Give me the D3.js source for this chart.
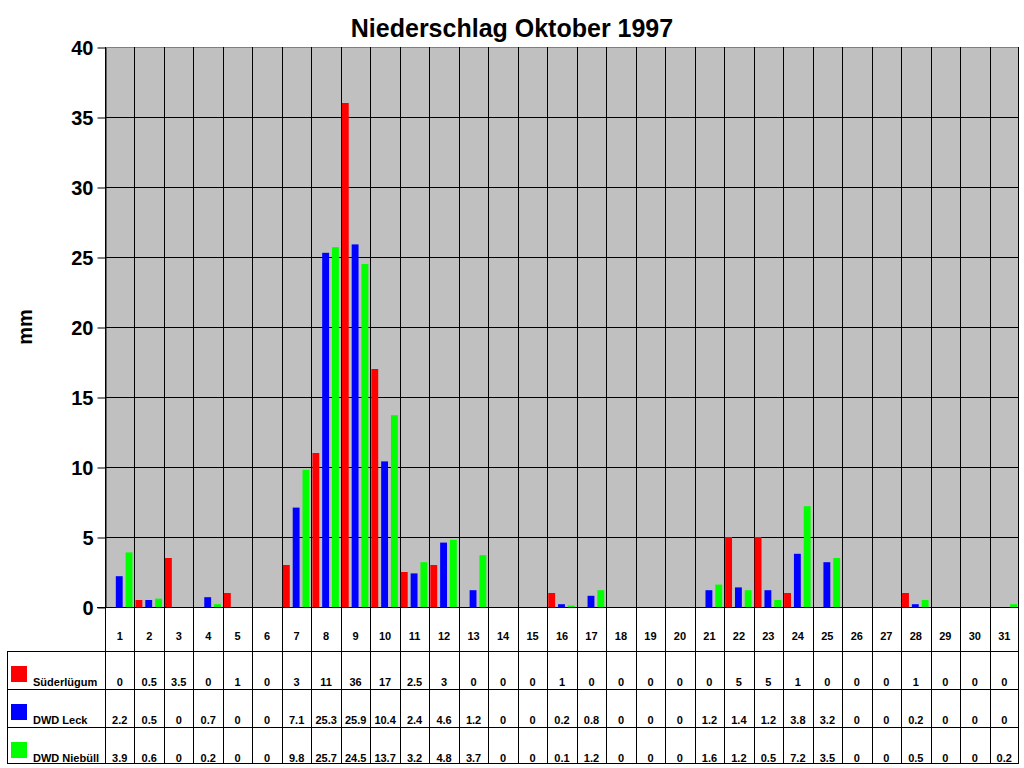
<!DOCTYPE html>
<html>
<head>
<meta charset="utf-8">
<script src="https://cdn.jsdelivr.net/npm/d3@7"></script>
<style>
body { margin: 0; background: #fff; }
text { font-family: "Liberation Sans", Arial, sans-serif; font-weight: bold; }
</style>
</head>
<body>
<svg class="chart"></svg>
<script>
// Data
var days = d3.range(1, 32).map(String);
var seriesNames = ["Süderlügum", "DWD Leck", "DWD Niebüll"];
var suederluegum = [0, 0.5, 3.5, 0, 1, 0, 3, 11, 36, 17, 2.5, 3, 0, 0, 0, 1, 0, 0, 0, 0, 0, 5, 5, 1, 0, 0, 0, 1, 0, 0, 0];
var dwdLeck = [2.2, 0.5, 0, 0.7, 0, 0, 7.1, 25.3, 25.9, 10.4, 2.4, 4.6, 1.2, 0, 0, 0.2, 0.8, 0, 0, 0, 1.2, 1.4, 1.2, 3.8, 3.2, 0, 0, 0.2, 0, 0, 0];
var dwdNiebuell = [3.9, 0.6, 0, 0.2, 0, 0, 9.8, 25.7, 24.5, 13.7, 3.2, 4.8, 3.7, 0, 0, 0.1, 1.2, 0, 0, 0, 1.6, 1.2, 0.5, 7.2, 3.5, 0, 0, 0.5, 0, 0, 0.2];
var yTicks = [0, 5, 10, 15, 20, 25, 30, 35, 40];
var colors = ["#ff0000", "#0000ff", "#00ff00"];

var allSeries = [suederluegum, dwdLeck, dwdNiebuell];

var W = 1024, H = 768;
var plot = { left: 105, right: 1019, top: 47, bottom: 607 };
var tableLeft = 7;
var rowLines = [651, 689, 727, 763];

var svg = d3.select(".chart").attr("width", W).attr("height", H);

var x = d3.scaleBand().domain(days).range([plot.left, plot.right]);
var y = d3.scaleLinear().domain([0, 40]).range([plot.bottom, plot.top]);
var xs = d3.scaleBand().domain([0, 1, 2]).range([1, x.bandwidth() - 2]).paddingInner(0.3);

// Title
svg.append("text")
    .attr("x", 512).attr("y", 37)
    .attr("text-anchor", "middle")
    .style("font-size", "25px")
    .text("Niederschlag Oktober 1997");

// Plot background
svg.append("rect")
    .attr("x", plot.left).attr("y", plot.top)
    .attr("width", plot.right - plot.left).attr("height", plot.bottom - plot.top)
    .attr("fill", "#c0c0c0");

// Horizontal grid
svg.selectAll(".hgrid")
    .data(yTicks.slice(1))
    .enter().append("line")
    .attr("x1", plot.left).attr("x2", plot.right)
    .attr("y1", function (d) { return y(d) + 0.5; })
    .attr("y2", function (d) { return y(d) + 0.5; })
    .attr("stroke", function (d) { return d === 40 ? "#808080" : "#000"; });

// Vertical category lines (through plot and table)
svg.selectAll(".vgrid")
    .data(days.slice(1))
    .enter().append("line")
    .attr("x1", function (d) { return Math.round(x(d)) + 0.5; })
    .attr("x2", function (d) { return Math.round(x(d)) + 0.5; })
    .attr("y1", plot.top).attr("y2", rowLines[3])
    .attr("stroke", "#000");

// Y axis
var yAxis = d3.axisLeft(y).tickValues(yTicks).tickSize(8).tickSizeOuter(0).tickPadding(4);
var yg = svg.append("g")
    .attr("transform", "translate(" + (plot.left + 0.5) + ",0.5)")
    .call(yAxis);
yg.select(".domain").attr("stroke", "#000");
yg.selectAll("text").style("font-size", "20px").attr("font-family", null).attr("dy", "0.35em");

svg.append("text")
    .attr("transform", "translate(32,327) rotate(-90)")
    .attr("text-anchor", "middle")
    .style("font-size", "20px")
    .text("mm");

// Bars
seriesNames.forEach(function (name, i) {
    svg.append("g").selectAll("rect")
        .data(allSeries[i])
        .enter().append("rect")
        .attr("x", function (d, j) { return x(days[j]) + xs(i); })
        .attr("y", function (d) { return y(d); })
        .attr("width", xs.bandwidth())
        .attr("height", function (d) { return y(0) - y(d); })
        .attr("fill", colors[i]);
});

// Table lines
svg.append("line")
    .attr("x1", plot.left - 8).attr("x2", plot.right)
    .attr("y1", plot.bottom + 0.5).attr("y2", plot.bottom + 0.5)
    .attr("stroke", "#000");
svg.selectAll(".hrow")
    .data(rowLines)
    .enter().append("line")
    .attr("x1", tableLeft).attr("x2", plot.right)
    .attr("y1", function (d) { return d + 0.5; })
    .attr("y2", function (d) { return d + 0.5; })
    .attr("stroke", "#000");
[tableLeft, plot.left, plot.right - 1].forEach(function (xx, k) {
    svg.append("line")
        .attr("x1", xx + 0.5).attr("x2", xx + 0.5)
        .attr("y1", k === 0 ? rowLines[0] : plot.top)
        .attr("y2", rowLines[3])
        .attr("stroke", "#000");
});

// Day labels
svg.selectAll(".day")
    .data(days)
    .enter().append("text")
    .attr("x", function (d) { return x(d) + x.bandwidth() / 2; })
    .attr("y", 640)
    .attr("text-anchor", "middle")
    .style("font-size", "11px")
    .text(function (d) { return d; });

// Rows
seriesNames.forEach(function (name, i) {
    var top = rowLines[i];
    svg.append("rect")
        .attr("x", 11).attr("y", top + 15)
        .attr("width", 16).attr("height", 16)
        .attr("fill", colors[i]);
    svg.append("text")
        .attr("x", 33).attr("y", top + 35)
        .style("font-size", "11px")
        .text(name);
    svg.append("g").selectAll("text")
        .data(allSeries[i])
        .enter().append("text")
        .attr("x", function (d, j) { return x(days[j]) + x.bandwidth() / 2; })
        .attr("y", top + 35)
        .attr("text-anchor", "middle")
        .style("font-size", "11px")
        .text(function (d) { return d; });
});
</script>
</body>
</html>
